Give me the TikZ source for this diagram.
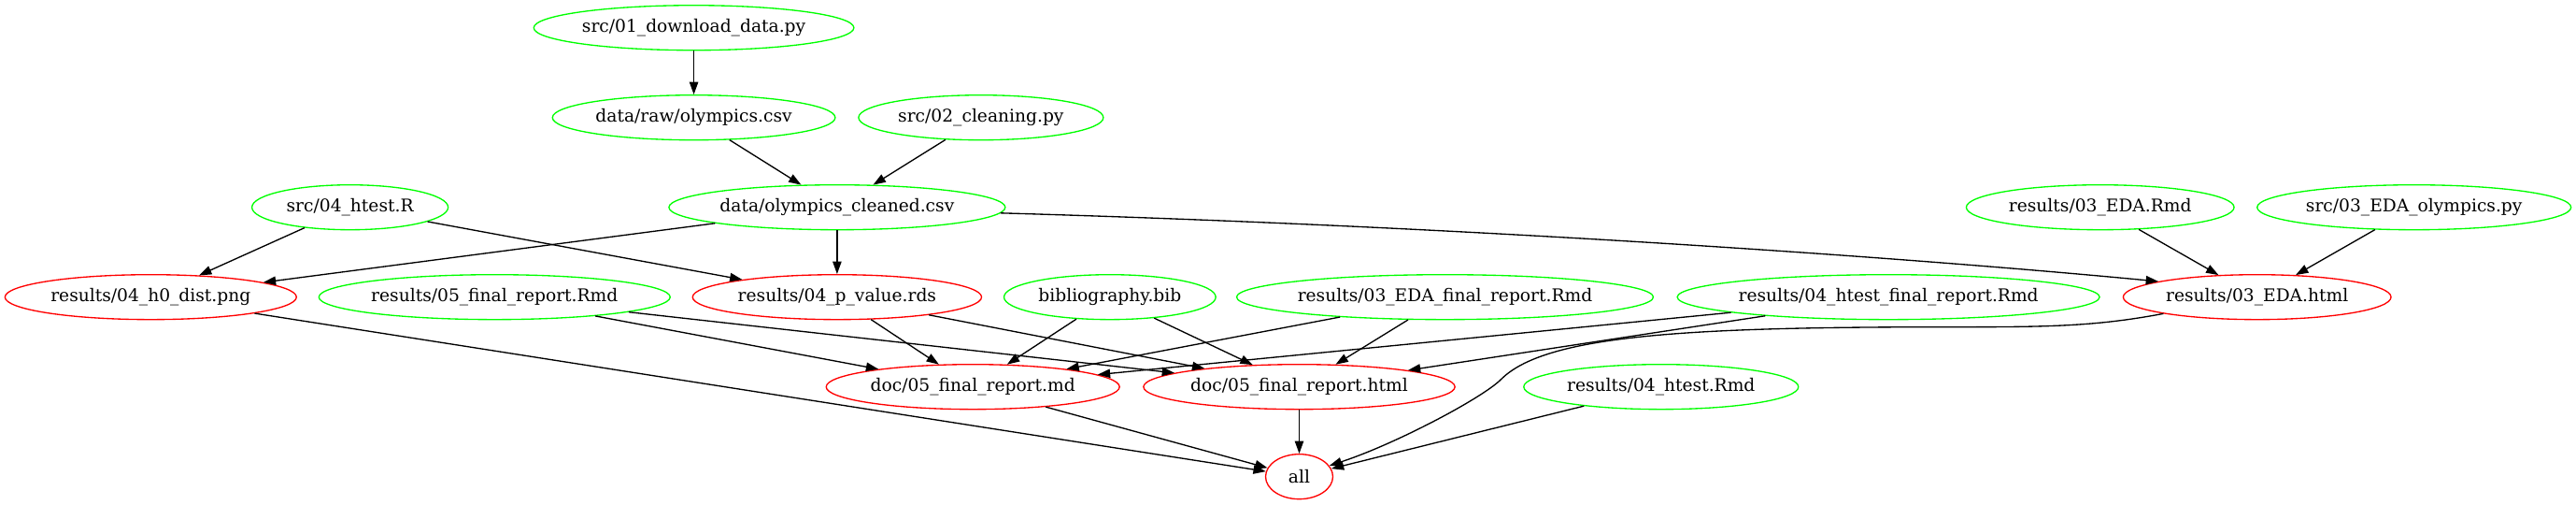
\documentclass[tikz,border=0pt]{standalone}
\usepackage{fontspec}
\setmainfont{DejaVu Serif}
\usetikzlibrary{shapes.geometric,arrows.meta}
\definecolor{gvgreen}{RGB}{0,255,0}
\definecolor{gvred}{RGB}{255,0,0}
\newcommand\ftxt[1]{\makebox[0pt][c]{#1}}
\begin{document}
\begin{tikzpicture}[x=1pt,y=1pt,
  fnode/.style={ellipse, draw, line width=1pt, minimum height=36pt, inner sep=0pt,
    font=\fontsize{14}{16.8}\selectfont},
  srcnode/.style={fnode, draw=gvgreen},
  outnode/.style={fnode, draw=gvred},
  edge/.style={line width=1pt, -{Triangle[length=10pt,width=7pt]}}]
\fill[white] (0,0) rectangle (2068,404.3);
\useasboundingbox (0,0) rectangle (2068,404.3);

% rank 1
\node[srcnode, minimum width=257pt] (dl) at (557,382) {\ftxt{src/01\_download\_data.py}};
% rank 2
\node[srcnode, minimum width=227pt] (raw) at (557,310) {\ftxt{data/raw/olympics.csv}};
\node[srcnode, minimum width=196.5pt] (cln) at (787.5,310) {\ftxt{src/02\_cleaning.py}};
% rank 3
\node[srcnode, minimum width=157.5pt] (htr) at (281,238) {\ftxt{src/04\_htest.R}};
\node[srcnode, minimum width=270pt] (cleaned) at (672,238) {\ftxt{data/olympics\_cleaned.csv}};
\node[srcnode, minimum width=215pt] (edarmd) at (1686,238) {\ftxt{results/03\_EDA.Rmd}};
\node[srcnode, minimum width=252pt] (edapy) at (1938,238) {\ftxt{src/03\_EDA\_olympics.py}};
% rank 4
\node[outnode, minimum width=234pt] (h0) at (121,166) {\ftxt{results/04\_h0\_dist.png}};
\node[srcnode, minimum width=282pt] (finrmd) at (397,166) {\ftxt{results/05\_final\_report.Rmd}};
\node[outnode, minimum width=232pt] (pval) at (672,166) {\ftxt{results/04\_p\_value.rds}};
\node[srcnode, minimum width=170pt] (bib) at (891,166) {\ftxt{bibliography.bib}};
\node[srcnode, minimum width=334.5pt] (edafin) at (1160,166) {\ftxt{results/03\_EDA\_final\_report.Rmd}};
\node[srcnode, minimum width=339pt] (htfin) at (1516,166) {\ftxt{results/04\_htest\_final\_report.Rmd}};
\node[outnode, minimum width=215pt] (edahtml) at (1812,166) {\ftxt{results/03\_EDA.html}};
% rank 5
\node[outnode, minimum width=235.5pt] (md) at (781,94) {\ftxt{doc/05\_final\_report.md}};
\node[outnode, minimum width=250pt] (html) at (1043,94) {\ftxt{doc/05\_final\_report.html}};
\node[srcnode, minimum width=220.5pt] (htrmd) at (1333.5,94) {\ftxt{results/04\_htest.Rmd}};
% rank 6
\node[outnode, minimum width=54pt] (all) at (1043,22) {\ftxt{all}};

% edges
\draw[edge] (dl) -- (raw);
\draw[edge] (raw) -- (cleaned);
\draw[edge] (cln) -- (cleaned);
\draw[edge] (htr) -- (h0);
\draw[edge] (htr) -- (pval);
\draw[edge] (cleaned) -- (h0);
\draw[edge] (cleaned) -- (pval);
\draw[edge] (cleaned.-2) .. controls (1200,222) and (1550,196) .. (edahtml.171);
\draw[edge] (edarmd) -- (edahtml);
\draw[edge] (edapy) -- (edahtml);
\draw[edge] (h0) -- (all);
\draw[edge] (finrmd) -- (md);
\draw[edge] (finrmd) -- (html);
\draw[edge] (pval) -- (md);
\draw[edge] (pval) -- (html);
\draw[edge] (bib) -- (md);
\draw[edge] (bib) -- (html);
\draw[edge] (edafin) -- (md);
\draw[edge] (edafin) -- (html);
\draw[edge] (htfin) -- (md);
\draw[edge] (htfin) -- (html);
\draw[edge] (edahtml.190) .. controls (1680,142) and (1640,142) .. (1560,142)
  .. controls (1350,142) and (1240,135) .. (1205,100)
  .. controls (1190,85) and (1120,48) .. (all.20);
\draw[edge] (md) -- (all);
\draw[edge] (html) -- (all);
\draw[edge] (htrmd) -- (all);
\end{tikzpicture}
\end{document}
